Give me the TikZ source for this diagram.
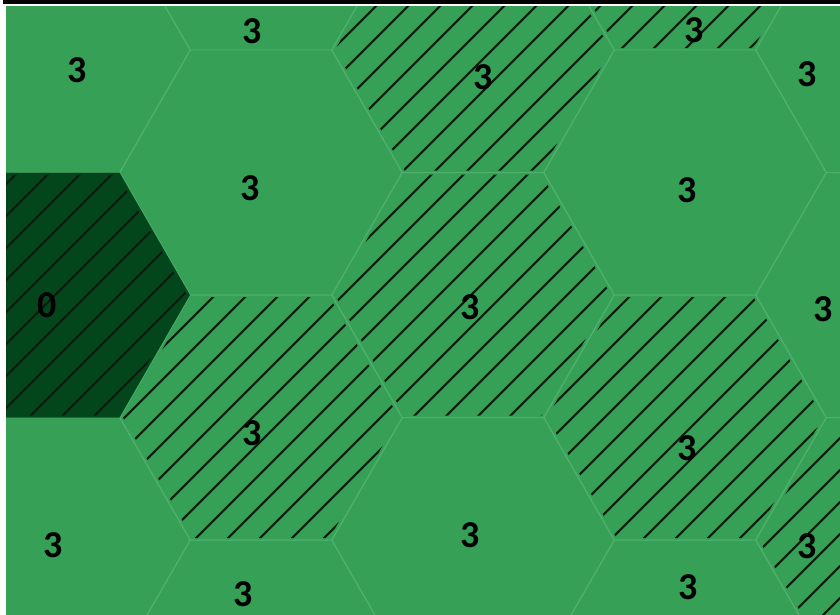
\documentclass[tikz,border=0pt]{standalone}
\usepackage{fontspec}
\setmainfont{Carlito}
\definecolor{cellfill}{RGB}{53,160,86}
\definecolor{cellline}{RGB}{78,176,108}
\definecolor{homefill}{RGB}{4,70,28}
\definecolor{hatchpen}{RGB}{8,30,12}

\begin{document}
\begin{tikzpicture}[x=0.025cm, y=-0.025cm, line join=round,
    count/.style={font=\fontsize{27}{27}\selectfont\bfseries, inner sep=0pt}]

  %========= geometry parameters =========
  \def\hr{70.5}       % half of the radius (half top edge)
  \def\rr{141}        % hexagon radius
  \def\hh{122.5}      % half height of a hexagon
  \def\dy{245}        % row step
  \def\hstep{32}      % horizontal hatch spacing
  \def\hang{45}       % hatch angle
  \useasboundingbox (0,0) rectangle (840,614);

  %========= frame line =========
  \draw[line width=2.2pt] (3,2) -- (840,2);

  \begin{scope}
    \clip (6,6.5) rectangle (840,614);

    %========= hexagon grid =========
    \foreach \cx/\ys in {49/50, 261/-72.5, 473/50, 685/-72.5, 897/50} {
      \foreach \j in {-1,...,3} {
        \pgfmathsetmacro{\cy}{\ys+\dy*\j}
        \draw[cellline, fill=cellfill, line width=0.7pt]
          (\cx+\hr,\cy-\hh) -- (\cx+\rr,\cy) -- (\cx+\hr,\cy+\hh)
          -- (\cx-\hr,\cy+\hh) -- (\cx-\rr,\cy) -- (\cx-\hr,\cy-\hh) -- cycle;
      }
    }
    % home cell
    \fill[homefill] (49+\hr,295-\hh) -- (49+\rr,295) -- (49+\hr,295+\hh)
      -- (49-\hr,295+\hh) -- (49-\rr,295) -- (49-\hr,295-\hh) -- cycle;

    %========= hatched cells =========
    \begin{scope}
      \clip \foreach \cx/\cy in {49/295, 473/50, 685/-72.5, 473/295,
                                 261/417.5, 685/417.5, 897/540} {
          (\cx+\hr-2,\cy-\hh+2) -- (\cx+\rr-3,\cy) -- (\cx+\hr-2,\cy+\hh-2)
          -- (\cx-\hr+2,\cy+\hh-2) -- (\cx-\rr+3,\cy) -- (\cx-\hr+2,\cy-\hh+2) -- cycle};
      \foreach \k in {-30,...,30}
        \draw[hatchpen, line width=1.5pt] (2+\hstep*\k,700) -- ++(-\hang:1200);
    \end{scope}
  \end{scope}

  %========= labels =========
  \node[count] (n1)  at (77,70)   {3};
  \node[count] (n2)  at (252,31)  {3};
  \node[count] (n3)  at (483,77)  {3};
  \node[count] (n4)  at (694,30)  {3};
  \node[count] (n5)  at (807,74)  {3};
  \node[count] (n6)  at (250,188) {3};
  \node[count] (n7)  at (687,190) {3};
  \node[count] (n8)  at (47,305)  {0};
  \node[count] (n9)  at (470,307) {3};
  \node[count] (n10) at (823,309) {3};
  \node[count] (n11) at (252,433) {3};
  \node[count] (n12) at (687,448) {3};
  \node[count] (n13) at (53,545)  {3};
  \node[count] (n14) at (470,535) {3};
  \node[count] (n15) at (807,546) {3};
  \node[count] (n16) at (243,594) {3};
  \node[count] (n17) at (688,587) {3};
\end{tikzpicture}
\end{document}
